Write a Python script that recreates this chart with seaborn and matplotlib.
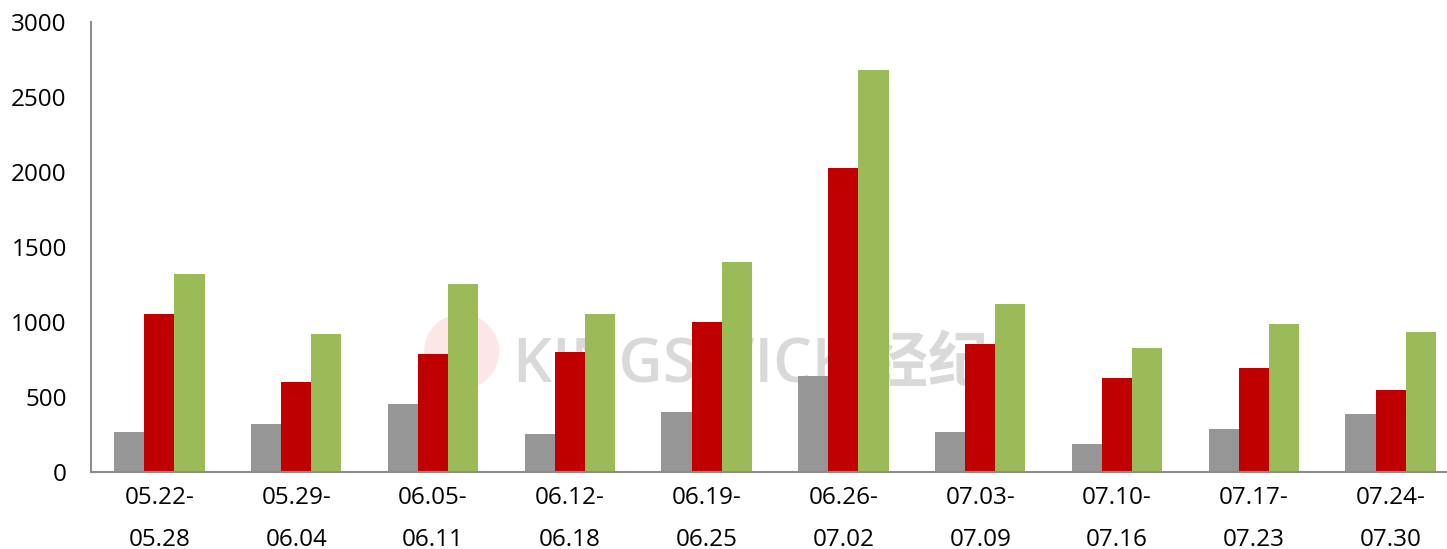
import pandas as pd
import seaborn as sns
import matplotlib.pyplot as plt
from matplotlib.ticker import FixedLocator

weeks = ["05.22-\n05.28", "05.29-\n06.04", "06.05-\n06.11", "06.12-\n06.18", "06.19-\n06.25",
         "06.26-\n07.02", "07.03-\n07.09", "07.10-\n07.16", "07.17-\n07.23", "07.24-\n07.30"]
series_a = [268, 322, 453, 255, 400, 638, 266, 187, 284, 389]
series_b = [1053, 602, 787, 800, 1000, 2024, 853, 627, 693, 548]
series_c = [1320, 920, 1253, 1053, 1400, 2677, 1120, 827, 987, 933]
series_names = ["A", "B", "C"]
colors = ["#969696", "#C00000", "#9BBB59"]

rows = []
for name, vals in zip(series_names, [series_a, series_b, series_c]):
    for w, v in zip(weeks, vals):
        rows.append({"week": w, "series": name, "value": v})
df = pd.DataFrame(rows)

sns.set_style("white")
plt.rcParams["font.family"] = ["Open Sans", "Noto Sans CJK SC", "DejaVu Sans"]

fig = plt.figure(figsize=(14.47, 5.49), dpi=100)
ax = fig.add_axes([91 / 1447, 77 / 549, 1368 / 1447, 450 / 549])

# faint watermark behind the bars
ax.text(462 / 1447, 1 - 362 / 549, "●", transform=fig.transFigure, color="#fde6e6",
        fontsize=60, ha="center", va="center", zorder=0)
ax.text(513 / 1447, 1 - 366 / 549, "KINGSWICK 经纪", transform=fig.transFigure,
        color="#d9d9d9", fontsize=44, fontweight="semibold", ha="left", va="center", zorder=0)

sns.barplot(data=df, x="week", y="value", hue="series", palette=colors, width=0.66,
            gap=0, saturation=1, legend=False, linewidth=0, ax=ax, zorder=2)

ax.set_xlim(-0.5, len(weeks) - 0.5)
ax.set_ylim(0, 3000)
ax.set_yticks(range(0, 3001, 500))
ax.set_xlabel("")
ax.set_ylabel("")

for side in ["top", "right"]:
    ax.spines[side].set_visible(False)
for side in ["left", "bottom"]:
    ax.spines[side].set_color("#8c8c8c")
    ax.spines[side].set_linewidth(1.5)

ax.tick_params(axis="y", direction="in", length=6, width=1.2, color="#8c8c8c",
               pad=17.5, labelsize=17.5, labelcolor="black")
ax.tick_params(axis="x", which="major", length=0, pad=10, labelsize=17.5, labelcolor="black")
ax.xaxis.set_minor_locator(FixedLocator([i - 0.5 for i in range(len(weeks) + 1)]))
ax.tick_params(axis="x", which="minor", direction="out", length=70, width=1.5, color="#8c8c8c")
for lab in ax.get_xticklabels():
    lab.set_linespacing(2.0)

plt.savefig("out.png", dpi=100)
plt.close()
